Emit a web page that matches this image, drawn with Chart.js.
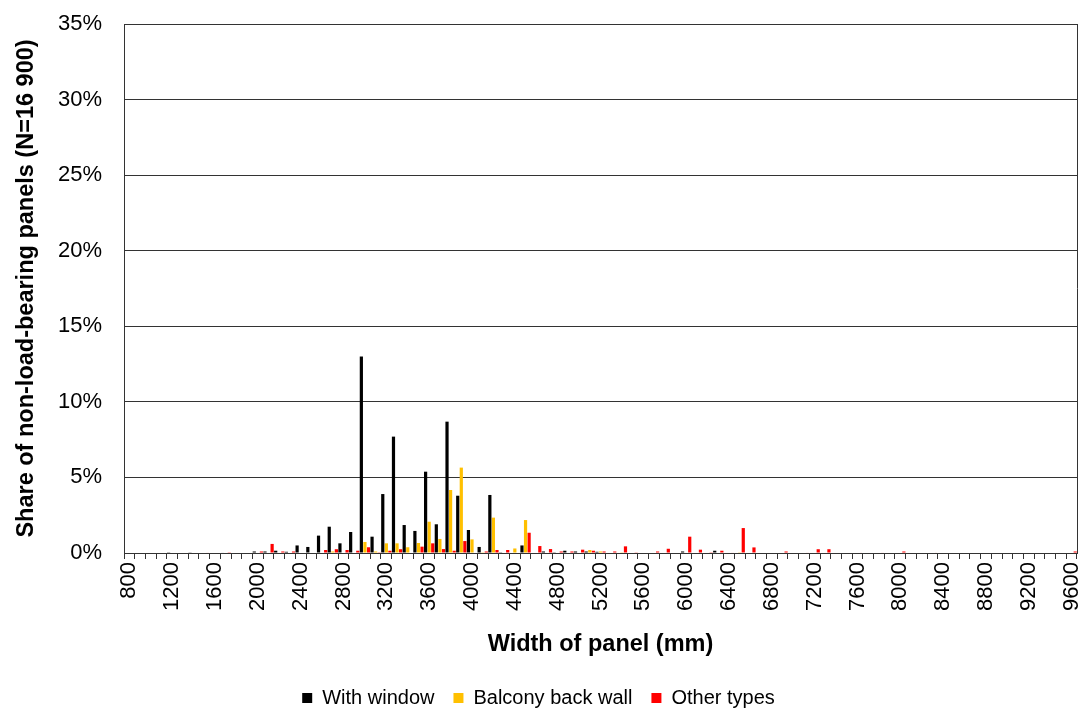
<!DOCTYPE html>
<html>
<head>
<meta charset="utf-8">
<script src="https://cdn.jsdelivr.net/npm/chart.js@4.4.1/dist/chart.umd.min.js"></script>
<style>
  html, body { margin: 0; padding: 0; background: #fff; }
</style>
</head>
<body>
<canvas id="anchoPaneles" width="1083" height="709"></canvas>
<script>
// widths of panel in mm, one category each 100 mm (800 .. 9600)
const anchos = []
for (let a = 800; a <= 9600; a += 100) anchos.push(String(a))

// shares in %, index 0 = 800 mm
const conVentana = [
  0, 0, 0, 0, 0.05, 0, 0.02, 0, 0, 0.03,
  0, 0, 0.1, 0.1, 0.15, 0.08, 0.5, 0.4, 1.15, 1.74,
  0.64, 1.39, 13.0, 1.08, 3.9, 7.7, 1.85, 1.46, 5.38, 1.9,
  8.69, 3.79, 1.52, 0.4, 3.84, 0.05, 0, 0.5, 0, 0.1,
  0.05, 0.15, 0.1, 0.1, 0.08, 0, 0, 0, 0, 0,
  0, 0, 0.1, 0, 0, 0.15, 0, 0, 0, 0,
  0, 0, 0, 0, 0, 0, 0, 0, 0, 0,
  0, 0, 0, 0, 0, 0, 0, 0, 0, 0,
  0, 0, 0, 0, 0, 0, 0, 0, 0
]
const balcon = [
  0, 0, 0, 0, 0, 0, 0, 0, 0, 0,
  0, 0, 0, 0, 0, 0, 0, 0, 0, 0.1,
  0, 0, 0.73, 0.1, 0.64, 0.64, 0.38, 0.66, 2.07, 0.93,
  4.17, 5.65, 0.9, 0.05, 2.34, 0, 0.3, 2.18, 0, 0,
  0, 0, 0, 0.2, 0.1, 0, 0.05, 0, 0, 0,
  0, 0, 0, 0, 0, 0, 0, 0.05, 0, 0,
  0, 0, 0, 0, 0, 0, 0, 0, 0, 0,
  0, 0, 0, 0, 0, 0, 0, 0, 0, 0,
  0, 0, 0, 0, 0, 0, 0, 0, 0
]
const otros = [
  0, 0, 0, 0, 0, 0, 0, 0.03, 0, 0.05,
  0, 0, 0.1, 0.6, 0.1, 0.1, 0, 0, 0.2, 0.25,
  0.2, 0.15, 0.38, 0.05, 0.15, 0.25, 0, 0.42, 0.64, 0.26,
  0.15, 0.79, 0, 0.1, 0.2, 0.2, 0, 1.34, 0.46, 0.26,
  0.1, 0.1, 0.22, 0.15, 0.1, 0.1, 0.44, 0.02, 0, 0.1,
  0.28, 0, 1.08, 0.22, 0.05, 0.15, 0.03, 1.65, 0.37, 0,
  0, 0.1, 0, 0.03, 0.25, 0.25, 0, 0, 0.03, 0,
  0.03, 0, 0.1, 0, 0, 0.03, 0, 0, 0, 0,
  0, 0, 0, 0, 0, 0, 0, 0, 0.1
]
const ticksY = [0, 5, 10, 15, 20, 25, 30, 35]

const fuente = '"Liberation Sans", Arial, sans-serif'
const gris = '#333333'

// right edge of the plot frame
const marcoDerecho = {
  id: 'marcoDerecho',
  beforeDatasetsDraw (chart) {
    const { ctx, chartArea: a } = chart
    ctx.save()
    ctx.strokeStyle = gris
    ctx.lineWidth = 1
    ctx.beginPath()
    ctx.moveTo(Math.round(a.right) + 0.5, a.top)
    ctx.lineTo(Math.round(a.right) + 0.5, a.bottom)
    ctx.stroke()
    ctx.restore()
  }
}

// legend with fixed height
const altoLeyenda = {
  id: 'altoLeyenda',
  afterInit (chart) {
    const fit = chart.legend.fit
    chart.legend.fit = function () {
      fit.call(this)
      this.height = 40
    }
  }
}

const ctx = document.getElementById('anchoPaneles').getContext('2d')
const grafico = new Chart(ctx, {
  type: 'bar',
  data: {
    labels: anchos,
    datasets: [
      { label: 'With window', data: conVentana, backgroundColor: '#000000' },
      { label: 'Balcony back wall', data: balcon, backgroundColor: '#FFC000' },
      { label: 'Other types', data: otros, backgroundColor: '#FF0000' }
    ]
  },
  options: {
    responsive: false,
    animation: false,
    events: [],
    datasets: {
      bar: { categoryPercentage: 1.0, barPercentage: 0.9 }
    },
    layout: {
      padding: { top: 24, right: 6, bottom: 0, left: 0 }
    },
    plugins: {
      tooltip: { enabled: false },
      legend: {
        position: 'bottom',
        labels: {
          font: { family: fuente, size: 20 },
          color: '#000',
          boxWidth: 10,
          boxHeight: 10,
          padding: 19
        }
      }
    },
    scales: {
      x: {
        afterFit (scale) {
          scale.height = 116
          scale.paddingLeft = 0
          scale.paddingRight = 0
        },
        grid: {
          drawOnChartArea: false,
          drawTicks: true,
          tickLength: 6,
          color: gris
        },
        border: { color: gris },
        ticks: {
          autoSkip: false,
          minRotation: 90,
          maxRotation: 90,
          padding: 3,
          color: '#000',
          font: { family: fuente, size: 22 },
          callback (v, i) { return i % 4 === 0 ? this.getLabelForValue(v) : '' }
        },
        title: {
          display: true,
          text: 'Width of panel (mm)',
          color: '#000',
          font: { family: fuente, size: 23.5, weight: 'bold' },
          padding: { top: 4, bottom: 10 }
        }
      },
      y: {
        min: 0,
        max: 35,
        afterFit (scale) {
          scale.width = 124
          scale.paddingTop = 0
          scale.paddingBottom = 0
        },
        afterBuildTicks (scale) { scale.ticks = ticksY.map(v => ({ value: v })) },
        grid: { color: gris, drawTicks: false },
        border: { color: gris },
        ticks: {
          padding: 22,
          color: '#000',
          font: { family: fuente, size: 22 },
          callback: v => v + '%'
        },
        title: {
          display: true,
          text: 'Share of non-load-bearing panels (N=16 900)',
          color: '#000',
          font: { family: fuente, size: 23.5, weight: 'bold' },
          padding: { top: 12, bottom: 0 }
        }
      }
    }
  },
  plugins: [marcoDerecho, altoLeyenda]
})
</script>
</body>
</html>
